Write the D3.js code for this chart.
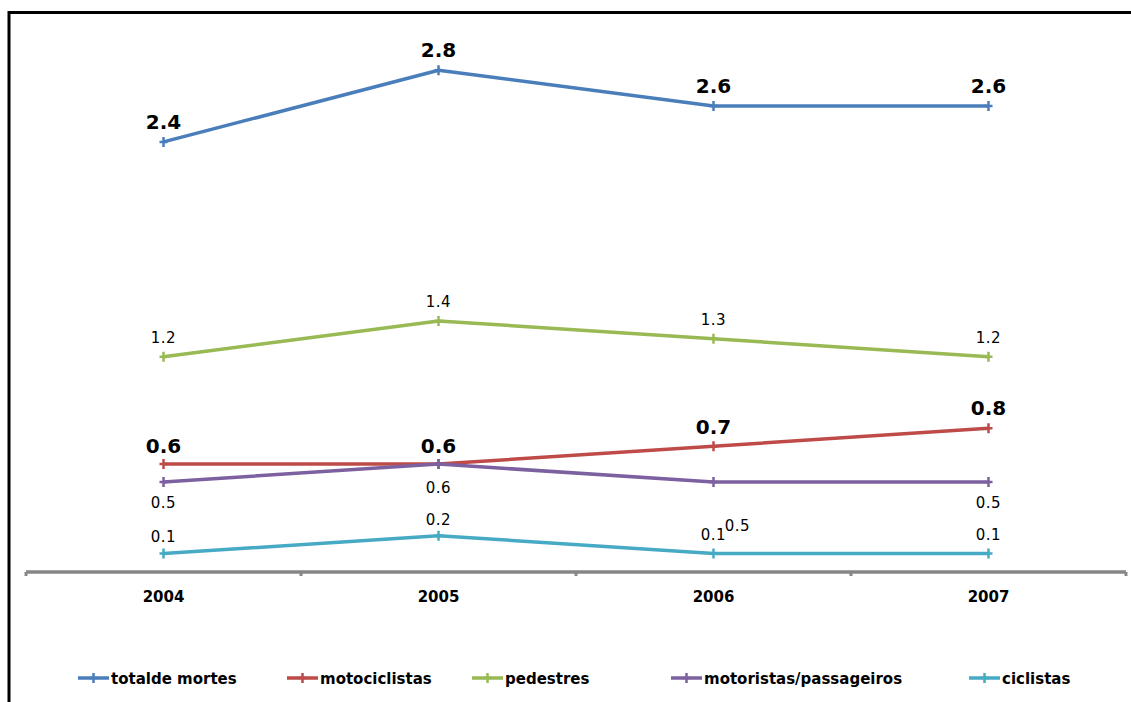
<!DOCTYPE html>
<html>
<head>
<meta charset="utf-8">
<script src="https://cdn.jsdelivr.net/npm/d3@7"></script>
<style>
  html, body { margin: 0; padding: 0; background: #fff; }
  svg { display: block; }
</style>
</head>
<body>
<svg id="chart" width="1131" height="702"></svg>
<script>
// Mortality rates by road-user type, 2004–2007
const years = ["2004", "2005", "2006", "2007"];
const seriesNames = ["totalde mortes", "motociclistas", "pedestres", "motoristas/passageiros", "ciclistas"];
const totalMortes = [2.4, 2.8, 2.6, 2.6];
const motociclistas = [0.6, 0.6, 0.7, 0.8];
const pedestres = [1.2, 1.4, 1.3, 1.2];
const motoristas = [0.5, 0.6, 0.5, 0.5];
const ciclistas = [0.1, 0.2, 0.1, 0.1];

const colors = ["#4A7EBB", "#BE4B48", "#98B954", "#7D60A0", "#46AAC5"];

// label styling per series: bold/large or regular, and offset relative to the point
const labelStyles = [
  { bold: true, offsets: [[0, -13], [0, -13], [0, -13], [0, -13]] },
  { bold: true, offsets: [[0, -11], [0, -11], [0, -12], [0, -13]] },
  { bold: false, offsets: [[0, -14], [0, -14], [0, -14], [0, -14]] },
  { bold: false, offsets: [[0, 26], [0, 29], [24, 49], [0, 26]] },
  { bold: false, offsets: [[0, -12], [0, -11], [0, -14], [0, -14]] }
];

const seriesValues = [totalMortes, motociclistas, pedestres, motoristas, ciclistas];

const svg = d3.select("#chart");
const font = "'DejaVu Sans', Verdana, sans-serif";

// outer frame (runs off the right and bottom edges)
svg.append("rect")
  .attr("x", 9).attr("y", 12.5)
  .attr("width", 1300).attr("height", 900)
  .attr("fill", "none").attr("stroke", "#000").attr("stroke-width", 3);

const x = d3.scaleBand().domain(years).range([26, 1126]);
const y = d3.scaleLinear().domain([0, 3]).range([571.5, 34.5]);
const cx = d => x(d) + x.bandwidth() / 2;

// category axis: thick grey baseline with short ticks between categories
const axisG = svg.append("g").attr("transform", `translate(0,${y(0) + 0.5})`);
axisG.call(d3.axisBottom(x).tickSize(0).tickPadding(0).tickFormat(""));
axisG.select(".domain").remove();
axisG.append("line")
  .attr("x1", x.range()[0]).attr("x2", x.range()[1])
  .attr("stroke", "#868686").attr("stroke-width", 3.5);
const boundaries = years.map(d => x(d)).concat([x.range()[1]]);
axisG.selectAll(".sep").data(boundaries).enter().append("line")
  .attr("x1", d => d).attr("x2", d => d)
  .attr("y1", 0).attr("y2", 4)
  .attr("stroke", "#868686").attr("stroke-width", 3);
svg.selectAll(".year").data(years).enter().append("text")
  .attr("x", d => cx(d)).attr("y", 602)
  .attr("text-anchor", "middle")
  .attr("font-family", font).attr("font-weight", "bold").attr("font-size", 15)
  .attr("fill", "#000")
  .text(d => d);

const line = d3.line().x((d, i) => cx(years[i])).y(d => y(d));
const crossPath = "M-4,0H4M0,-5V5";

// one polyline per series, with a small cross marker at each year
seriesValues.forEach((vals, s) => {
  const g = svg.append("g");
  g.append("path")
    .datum(vals)
    .attr("d", line)
    .attr("fill", "none")
    .attr("stroke", colors[s])
    .attr("stroke-width", 3.5)
    .attr("stroke-linejoin", "round");
  g.selectAll(".m").data(vals).enter().append("path")
    .attr("d", crossPath)
    .attr("transform", (d, i) => `translate(${cx(years[i])},${y(d)})`)
    .attr("stroke", colors[s]).attr("stroke-width", 2.5).attr("fill", "none");
});

// value labels
seriesValues.forEach((vals, s) => {
  const st = labelStyles[s];
  svg.selectAll(null).data(vals).enter().append("text")
    .attr("x", (d, i) => cx(years[i]) + st.offsets[i][0])
    .attr("y", (d, i) => y(d) + st.offsets[i][1])
    .attr("text-anchor", "middle")
    .attr("font-family", font)
    .attr("font-weight", st.bold ? "bold" : "normal")
    .attr("font-size", st.bold ? 20 : 15)
    .attr("letter-spacing", st.bold ? 0 : 0.5)
    .attr("fill", "#000")
    .text(d => d3.format(".1f")(d));
});

// legend
const legendX = [78, 287, 472, 671, 969];
const legendY = 678;
seriesNames.forEach((name, s) => {
  const g = svg.append("g").attr("transform", `translate(${legendX[s]},${legendY})`);
  g.append("line").attr("x1", 0).attr("x2", 31).attr("y1", 0).attr("y2", 0)
    .attr("stroke", colors[s]).attr("stroke-width", 3.5);
  g.append("path").attr("d", crossPath).attr("transform", "translate(15.5,0)")
    .attr("stroke", colors[s]).attr("stroke-width", 2.5).attr("fill", "none");
  g.append("text").attr("x", 33).attr("y", 5.5)
    .attr("font-family", font).attr("font-weight", "bold").attr("font-size", 15)
    .attr("fill", "#000")
    .text(name);
});
</script>
</body>
</html>
